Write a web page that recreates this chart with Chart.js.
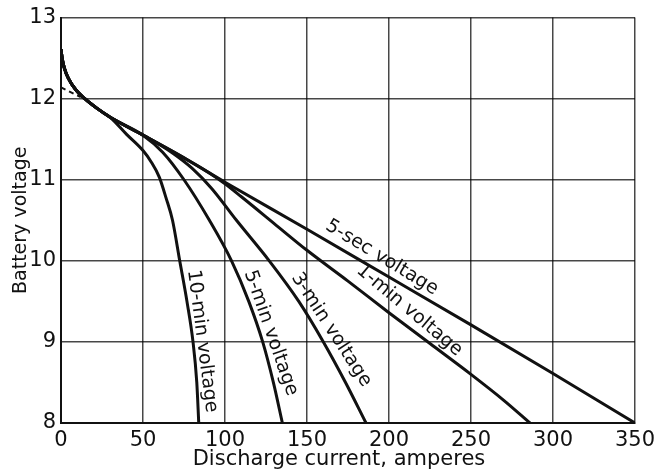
<!DOCTYPE html>
<html>
<head>
<meta charset="utf-8">
<script src="https://cdn.jsdelivr.net/npm/chart.js@4.4.1/dist/chart.umd.min.js"></script>
<style>
  html, body { margin: 0; padding: 0; background: #fff; }
  canvas { display: block; }
</style>
</head>
<body>
<canvas id="chart" width="660" height="473"></canvas>
<script>
// Axis ticks
const currentTicks = [0, 50, 100, 150, 200, 250, 300, 350];
const voltageTicks = [8, 9, 10, 11, 12, 13];

// Curve names (drawn along each curve)
const seriesNames = ['10-min voltage', '5-min voltage', '3-min voltage', '1-min voltage', '5-sec voltage'];

// Discharge current (A) and battery voltage (V) for each curve
const tenMinAmps  = [0, 0.7, 2, 4.5, 9, 14.5, 22, 30, 40, 50, 55, 60, 64, 68, 72.4, 76.8, 80.5, 82.8, 84];
const tenMinVolts = [12.61, 12.5, 12.38, 12.25, 12.11, 12.0, 11.88, 11.77, 11.56, 11.36, 11.22, 11.03, 10.78, 10.5, 10.0, 9.5, 9.0, 8.5, 8.0];

const fiveMinAmps  = [0, 0.7, 2, 4.5, 9, 14.5, 22, 30, 50, 62, 75, 90.5, 104, 114.5, 123, 129.5, 135];
const fiveMinVolts = [12.61, 12.5, 12.38, 12.25, 12.11, 12.0, 11.88, 11.77, 11.55, 11.34, 11.0, 10.5, 10.0, 9.5, 9.0, 8.5, 8.0];

const threeMinAmps  = [0, 0.7, 2, 4.5, 9, 14.5, 22, 30, 52, 68, 80, 92, 107, 127, 145, 160, 173.5, 186];
const threeMinVolts = [12.61, 12.5, 12.38, 12.25, 12.11, 12.0, 11.88, 11.77, 11.53, 11.33, 11.14, 10.89, 10.5, 10.0, 9.5, 9.0, 8.5, 8.0];

const oneMinAmps  = [0, 0.7, 2, 4.5, 9, 14.5, 22, 30, 50, 75, 90, 100, 110, 130, 150, 175, 200, 225, 250, 270, 286];
const oneMinVolts = [12.61, 12.5, 12.38, 12.25, 12.11, 12.0, 11.88, 11.77, 11.55, 11.27, 11.09, 10.95, 10.79, 10.46, 10.13, 9.75, 9.36, 8.98, 8.6, 8.28, 8.0];

const fiveSecAmps  = [0, 0.7, 2, 4.5, 9, 14.5, 22, 30, 50, 75, 100, 150, 200, 250, 300, 350];
const fiveSecVolts = [12.61, 12.5, 12.38, 12.25, 12.11, 12.0, 11.88, 11.77, 11.55, 11.27, 10.97, 10.39, 9.8, 9.21, 8.61, 8.0];

// Dashed extrapolation of the straight part back to zero current
const extrapAmps  = [0, 12];
const extrapVolts = [12.14, 12.02];

const toPoints = (xs, ys) => xs.map((x, i) => ({ x, y: ys[i] }));

const FONT = '"DejaVu Sans", "Liberation Sans", sans-serif';
const INK = '#111';

const curve = (label, xs, ys) => ({
  label,
  data: toPoints(xs, ys),
  borderColor: INK,
  borderWidth: 3,
  pointRadius: 0,
  fill: false,
  cubicInterpolationMode: 'monotone'
});

// Text placed along each curve: anchor in data units, rotation in degrees
const curveLabelPlacement = [
  { amps: 86.1,  volts: 9.01,  angle: 82.6 },
  { amps: 127.9, volts: 9.11,  angle: 70.8 },
  { amps: 164.8, volts: 9.15,  angle: 57 },
  { amps: 212.5, volts: 9.39,  angle: 40 },
  { amps: 195.6, volts: 10.04, angle: 31.3 }
];

const curveTextPlugin = {
  id: 'curveText',
  afterDatasetsDraw(chart) {
    const { ctx, scales: { x, y }, chartArea } = chart;
    ctx.save();
    ctx.fillStyle = INK;
    ctx.textAlign = 'center';
    ctx.textBaseline = 'middle';
    ctx.font = '19px ' + FONT;
    seriesNames.forEach((name, i) => {
      const p = curveLabelPlacement[i];
      ctx.save();
      ctx.translate(x.getPixelForValue(p.amps), y.getPixelForValue(p.volts));
      ctx.rotate(p.angle * Math.PI / 180);
      ctx.fillText(name, 0, 0);
      ctx.restore();
    });

    // Axis titles
    ctx.font = '21px ' + FONT;
    ctx.fillText('Discharge current, amperes', (chartArea.left + chartArea.right) / 2 - 9, 460);
    ctx.save();
    ctx.font = '19px ' + FONT;
    ctx.translate(21, (chartArea.top + chartArea.bottom) / 2);
    ctx.rotate(-Math.PI / 2);
    ctx.fillText('Battery voltage', 0, 0);
    ctx.restore();
    ctx.restore();
  }
};

new Chart(document.getElementById('chart'), {
  type: 'line',
  data: {
    datasets: [
      curve(seriesNames[0], tenMinAmps, tenMinVolts),
      curve(seriesNames[1], fiveMinAmps, fiveMinVolts),
      curve(seriesNames[2], threeMinAmps, threeMinVolts),
      curve(seriesNames[3], oneMinAmps, oneMinVolts),
      curve(seriesNames[4], fiveSecAmps, fiveSecVolts),
      {
        label: 'extrapolation',
        data: toPoints(extrapAmps, extrapVolts),
        borderColor: INK,
        borderWidth: 2,
        borderDash: [5, 4],
        pointRadius: 0,
        fill: false,
        tension: 0
      }
    ]
  },
  options: {
    responsive: false,
    animation: false,
    layout: { padding: { left: 0, top: 16, right: 23, bottom: 0 } },
    plugins: { legend: { display: false }, tooltip: { enabled: false } },
    scales: {
      x: {
        type: 'linear',
        min: currentTicks[0],
        max: currentTicks[currentTicks.length - 1],
        afterBuildTicks: s => { s.ticks = currentTicks.map(v => ({ value: v })); },
        afterFit: s => { s.height = 50; },
        grid: { color: 'rgba(0,0,0,0.72)', lineWidth: 1.5, drawTicks: false },
        border: { color: INK, width: 2 },
        ticks: { color: INK, font: { family: FONT, size: 21 }, padding: 5, maxRotation: 0 }
      },
      y: {
        type: 'linear',
        min: voltageTicks[0],
        max: voltageTicks[voltageTicks.length - 1],
        afterBuildTicks: s => { s.ticks = voltageTicks.map(v => ({ value: v })); },
        afterFit: s => { s.width = 61; },
        grid: { color: 'rgba(0,0,0,0.72)', lineWidth: 1.5, drawTicks: false },
        border: { color: INK, width: 2 },
        ticks: { color: INK, font: { family: FONT, size: 21 }, padding: 5 }
      }
    }
  },
  plugins: [curveTextPlugin]
});
</script>
</body>
</html>
